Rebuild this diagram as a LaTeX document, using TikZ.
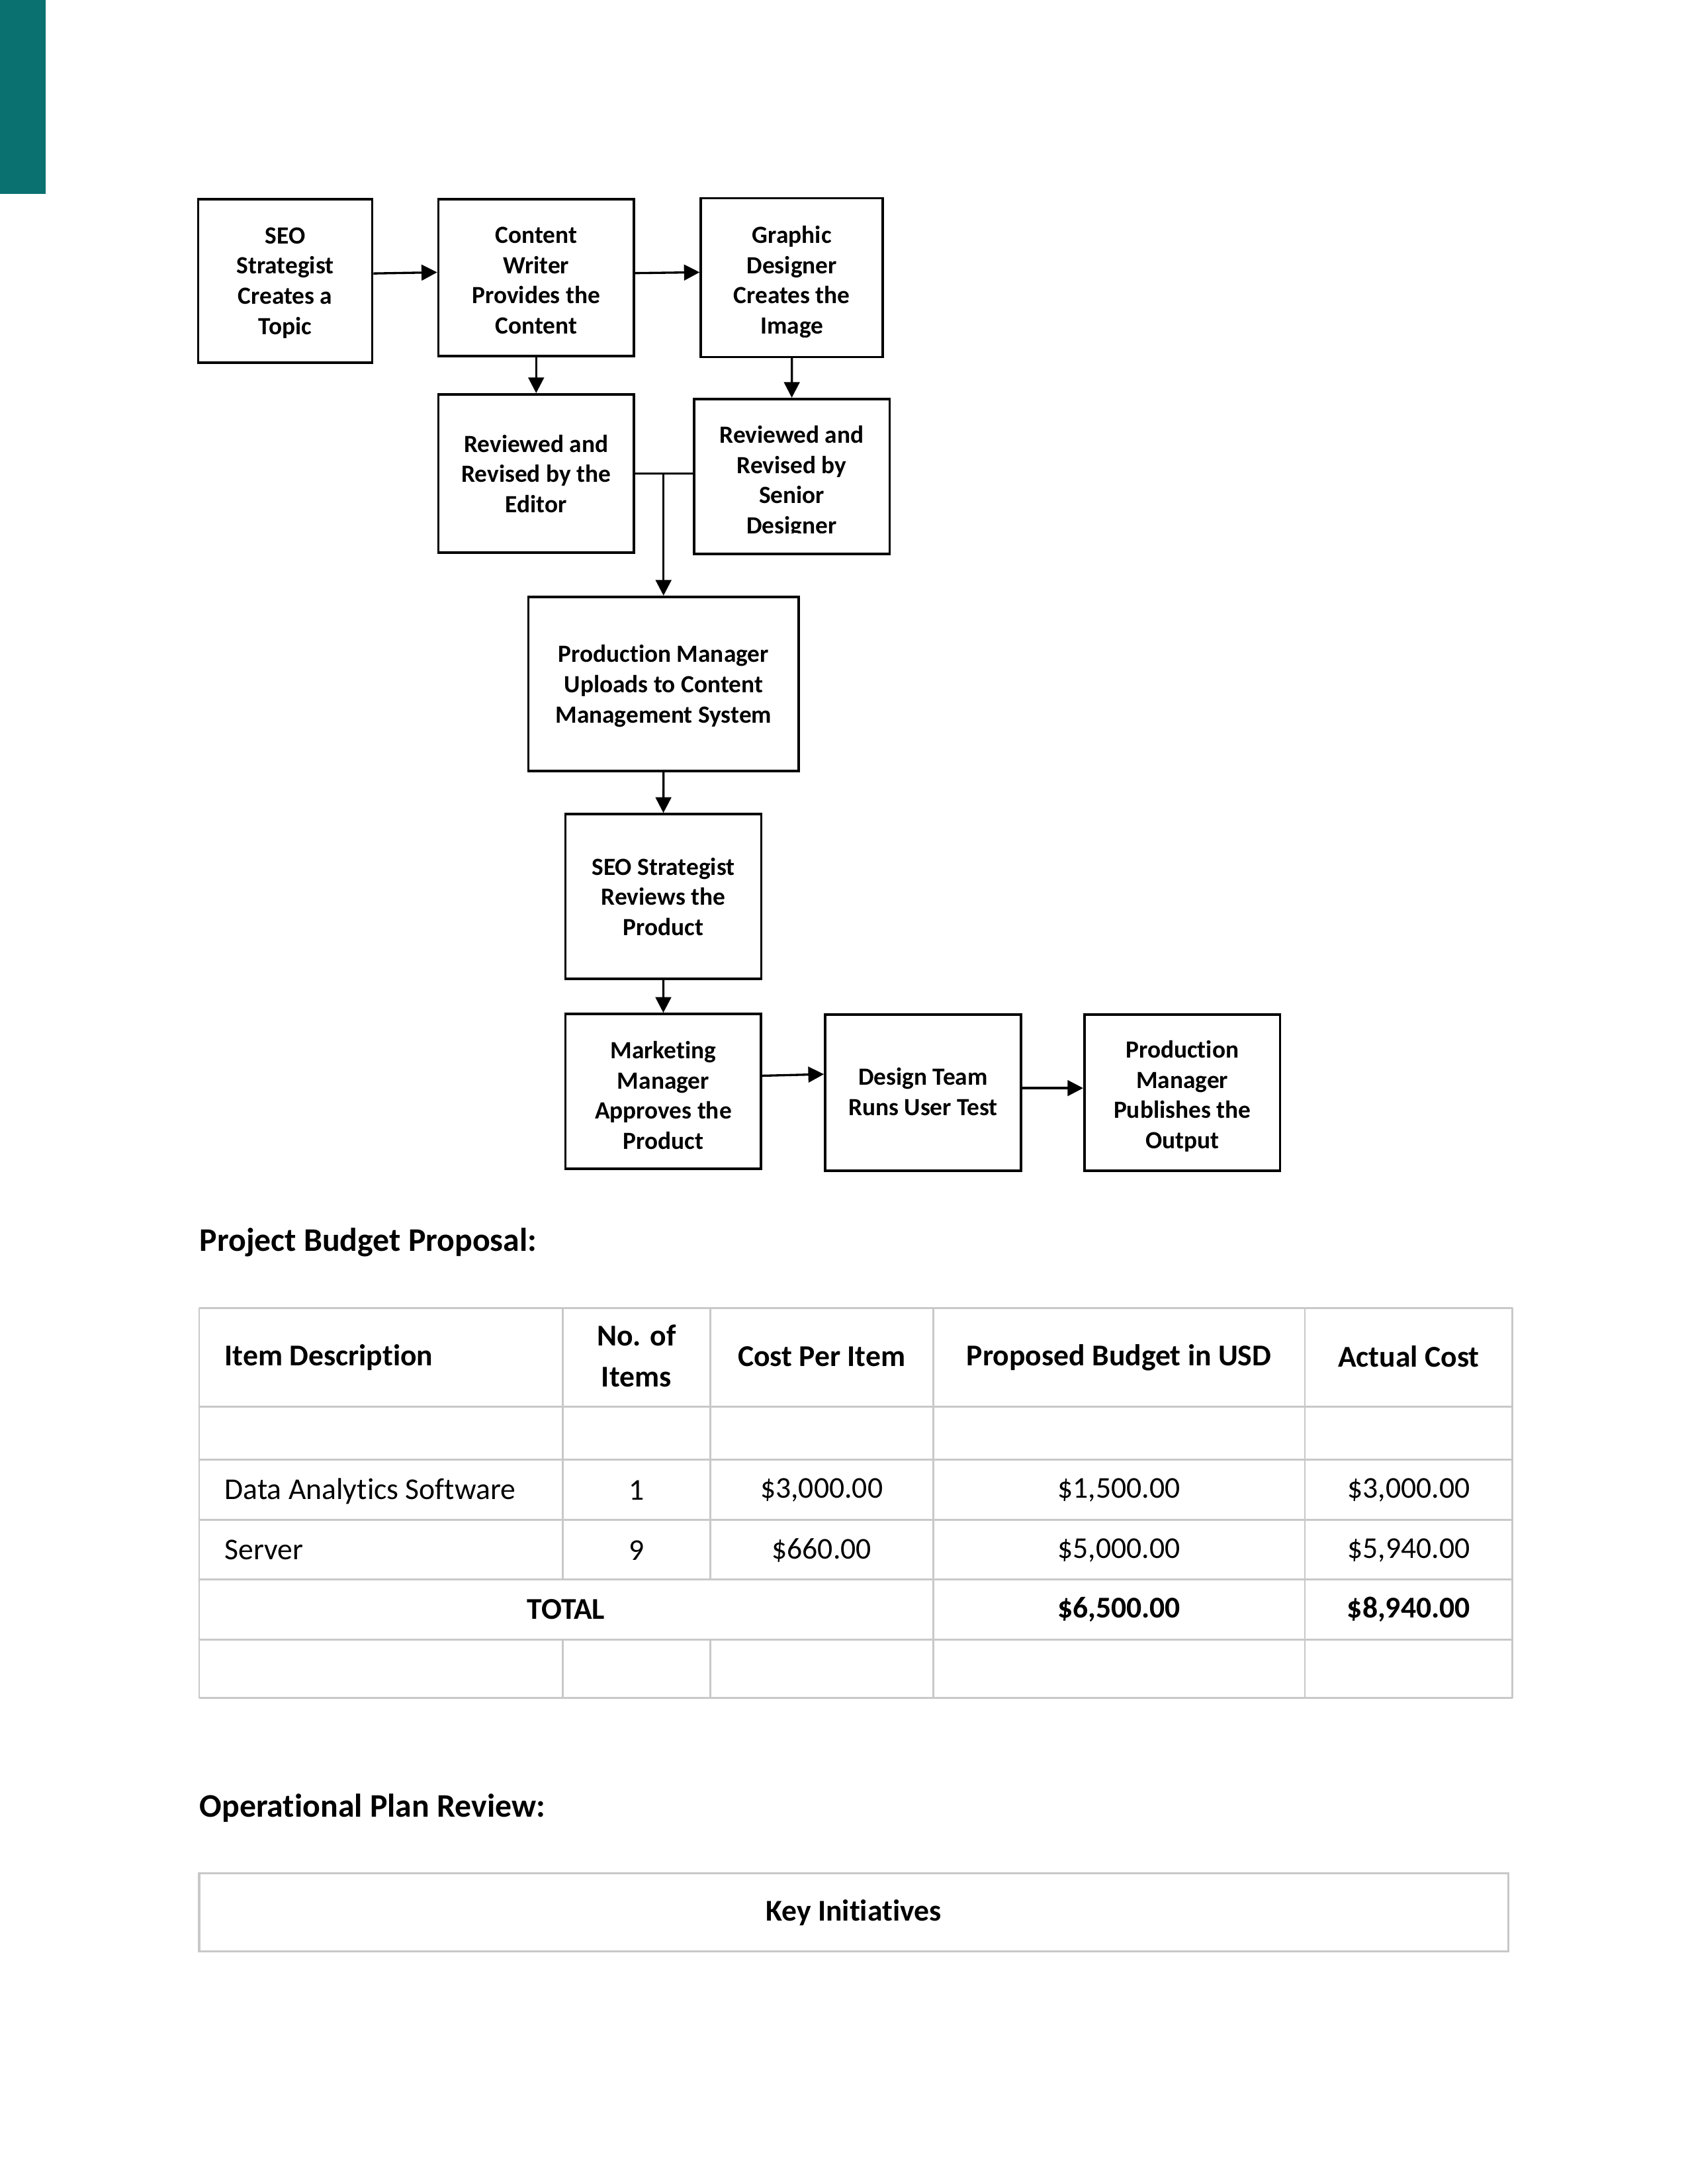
\documentclass[tikz,border=0pt]{standalone}
\usepackage{fontspec}
\setmainfont{Carlito}[Ligatures=NoCommon]
\usepackage{tikz}
\usetikzlibrary{arrows.meta,positioning}
\definecolor{pageteal}{RGB}{10,112,112}
\definecolor{gridgray}{RGB}{200,200,200}
\tikzset{
  stepbox/.style={draw=black,line width=0.9pt,fill=white,inner sep=0pt},
  steptext/.style={align=center,inner sep=0pt,anchor=base,
    font=\bfseries\fontsize{9}{11}\selectfont},
  flow/.style={-{Triangle[length=2mm,width=2mm]},line width=0.8pt,draw=black},
  gridline/.style={draw=gridgray,line width=0.7pt},
  cell/.style={inner sep=0pt,font=\fontsize{11}{13}\selectfont},
  headcell/.style={inner sep=0pt,align=center,
    font=\bfseries\fontsize{11}{15}\selectfont},
  sectitle/.style={anchor=west,inner sep=0pt,
    font=\bfseries\fontsize{12}{14}\selectfont},
  keybox/.style={draw=gridgray,line width=0.8pt,inner sep=0pt,
    font=\bfseries\fontsize{11}{13}\selectfont}
}
\begin{document}
\begin{tikzpicture}[x=0.01782cm,y=-0.01782cm]
  \useasboundingbox (0,0) rectangle (1212,1568);
  \fill[pageteal] (0,0) rectangle (33,139);

  % flowchart boxes (text placed on the baseline of its last line)
  \node[stepbox,minimum width=2.228cm,minimum height=2.092cm] (seo) at (204.8,201.6) {};
  \node[steptext] (seotext) at (204.8,240) {SEO\\Strategist\\Creates a\\Topic};
  \node[stepbox,minimum width=2.502cm,minimum height=2.008cm] (writer) at (385,199.45) {};
  \node[steptext] (writertext) at (385,239.7) {Content\\Writer\\Provides the\\Content};
  \node[stepbox,minimum width=2.329cm,minimum height=2.031cm] (graphic) at (568.65,199.3) {};
  \begin{scope}
    \clip (graphic.north west) rectangle ([yshift=0.268cm]graphic.south east);
    \node[steptext] (graphictext) at (568.65,239.7) {Graphic\\Designer\\Creates the\\Image};
  \end{scope}
  \node[stepbox,minimum width=2.502cm,minimum height=2.028cm] (editor) at (385,340) {};
  \node[steptext] (editortext) at (385,368) {Reviewed and\\Revised by the\\Editor};
  \node[stepbox,minimum width=2.504cm,minimum height=1.983cm] (senior) at (568.55,342.05) {};
  \begin{scope}
    \clip (senior.north west) rectangle ([yshift=0.283cm]senior.south east);
    \node[steptext] (seniortext) at (568.55,383.2) {Reviewed and\\Revised by\\Senior\\Designer};
  \end{scope}
  \node[stepbox,minimum width=3.459cm,minimum height=2.231cm] (upload) at (476.45,491.1) {};
  \node[steptext] (uploadtext) at (476.45,518.9)
    {Production Manager\\Uploads to Content\\Management System};
  \node[stepbox,minimum width=2.507cm,minimum height=2.106cm] (review) at (476.35,643.6) {};
  \node[steptext] (reviewtext) at (476.35,671.6) {SEO Strategist\\Reviews the\\Product};
  \node[stepbox,minimum width=2.505cm,minimum height=1.982cm] (market) at (476.3,783.6) {};
  \begin{scope}
    \clip (market.north west) rectangle ([yshift=0.27cm]market.south east);
    \node[steptext] (markettext) at (476.3,825) {Marketing\\Manager\\Approves the\\Product};
  \end{scope}
  \node[stepbox,minimum width=2.507cm,minimum height=1.999cm] (usertest) at (662.85,784.4) {};
  \node[steptext] (usertesttext) at (662.85,800.9) {Design Team\\Runs User Test};
  \node[stepbox,minimum width=2.504cm,minimum height=1.999cm] (publish) at (848.95,784.4) {};
  \begin{scope}
    \clip (publish.north west) rectangle ([yshift=0.268cm]publish.south east);
    \node[steptext] (publishtext) at (848.95,824.6) {Production\\Manager\\Publishes the\\Output};
  \end{scope}

  % connectors
  \draw[flow] ([yshift=0.094cm]seo.east) -- ([yshift=0.07cm]writer.west);
  \draw[flow] ([yshift=0.06cm]writer.east) -- ([yshift=0.068cm]graphic.west);
  \draw[flow] (writer.south) -- (editor.north);
  \draw[flow] (graphic.south) -- (senior.north);
  \draw[line width=0.8pt] (editor.east) -- (editor.east -| senior.west);
  \coordinate (merge) at (editor.east -| upload.north);
  \draw[flow] (merge) -- (upload.north);
  \draw[flow] (upload.south) -- (review.north);
  \draw[flow] (review.south) -- (market.north);
  \draw[flow] ([yshift=0.201cm]market.east) -- ([yshift=0.235cm]usertest.west);
  \draw[flow] ([yshift=0.057cm]usertest.east) -- ([yshift=0.057cm]publish.west);

  % budget table
  \node[sectitle] (budgettitle) at (143,892) {Project Budget Proposal:};
  \foreach \y in {939,1010,1048,1091,1134,1177,1219}
    \draw[gridline] (143,\y) -- (1086,\y);
  \foreach \x in {143,670,937,1086}
    \draw[gridline] (\x,939) -- (\x,1219);
  \foreach \x in {404,510} {
    \draw[gridline] (\x,939) -- (\x,1134);
    \draw[gridline] (\x,1177) -- (\x,1219);
  }
  \node[headcell,anchor=west] (hitem) at (161,974.5) {Item Description};
  \node[headcell] (hcount) at (457,973.5) {No. of\\Items};
  \node[headcell] (hcost) at (590,974) {Cost Per Item};
  \node[headcell] (hbudget) at (803.5,974.5) {Proposed Budget in USD};
  \node[headcell] (hactual) at (1011.5,974) {Actual Cost};

  \node[cell,anchor=west] (softname) at (161,1070.5) {Data Analytics Software};
  \node[cell] (softcount) at (457,1070) {1};
  \node[cell] (softcost) at (590,1070) {\$3,000.00};
  \node[cell] (softbudget) at (803.5,1070) {\$1,500.00};
  \node[cell] (softactual) at (1011.5,1070) {\$3,000.00};

  \node[cell,anchor=west] (servname) at (161,1112.5) {Server};
  \node[cell] (servcount) at (457,1113) {9};
  \node[cell] (servcost) at (590,1113) {\$660.00};
  \node[cell] (servbudget) at (803.5,1113) {\$5,000.00};
  \node[cell] (servactual) at (1011.5,1113) {\$5,940.00};

  \node[headcell] (totalname) at (406.5,1155.5) {TOTAL};
  \node[headcell] (totalbudget) at (803.5,1155.5) {\$6,500.00};
  \node[headcell] (totalactual) at (1011.5,1155.5) {\$8,940.00};

  % plan review
  \node[sectitle] (plantitle) at (143,1298) {Operational Plan Review:};
  \node[keybox,minimum width=16.751cm,minimum height=0.998cm] (keyinit) at (613,1373)
    {Key Initiatives};
\end{tikzpicture}
\end{document}
